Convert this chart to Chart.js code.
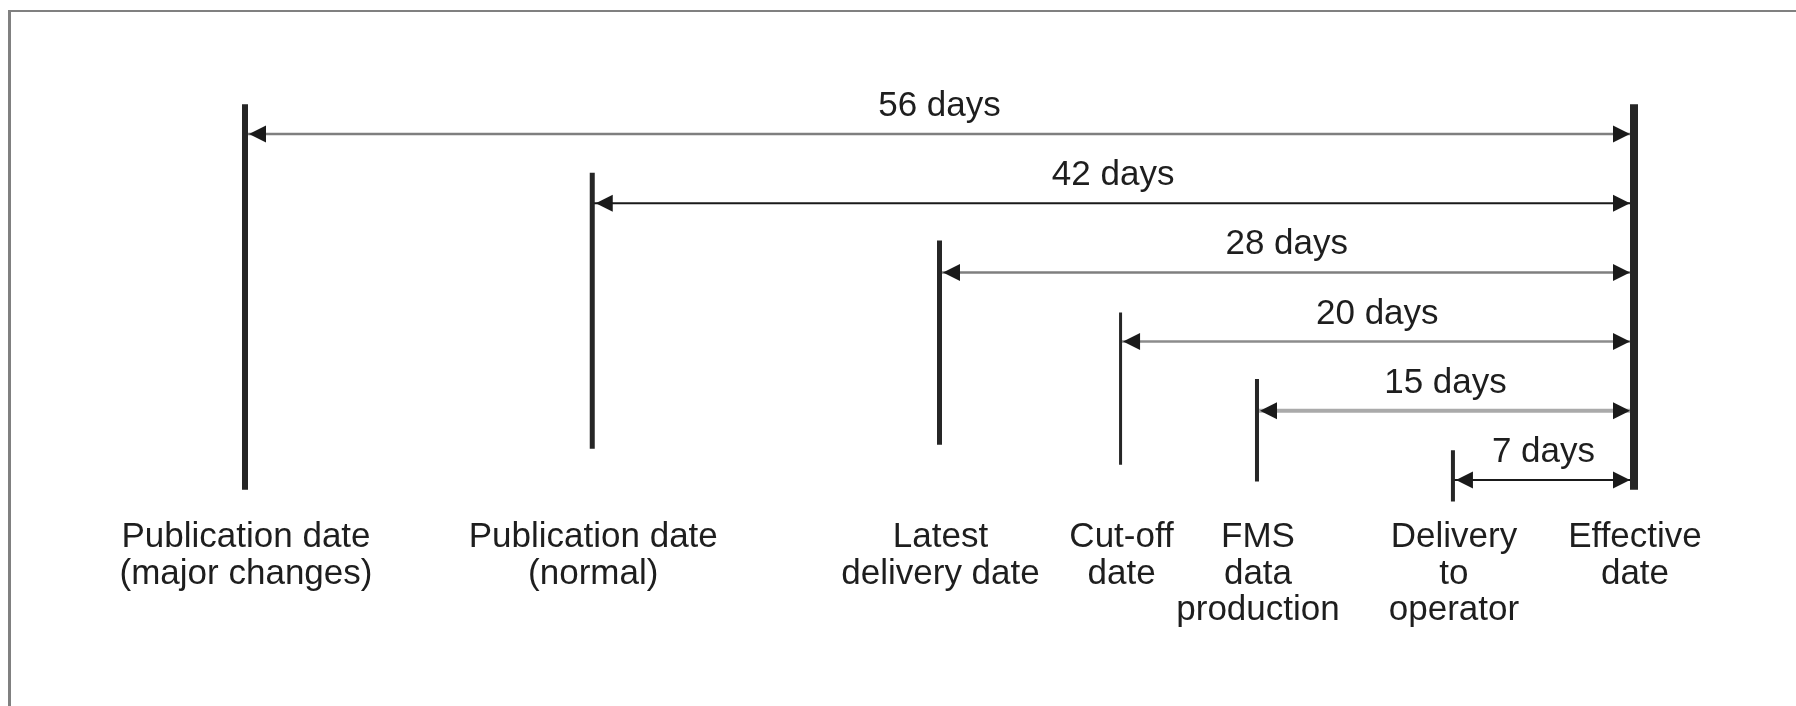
<!DOCTYPE html>
<html>
<head>
<meta charset="utf-8">
<title>Data cycle timeline</title>
<script src="https://cdn.jsdelivr.net/npm/chart.js@4"></script>
<style>
  body { margin: 0; background: #fff; }
  #wrap { position: relative; width: 1796px; height: 706px; }
  #frame { position: absolute; left: 8px; top: 10px; right: 0; bottom: 0; border-top: 2px solid #808080; border-left: 3px solid #808080; }
  canvas { position: absolute; left: 0; top: 0; }
</style>
</head>
<body>
<div id="wrap">
  <div id="frame"></div>
  <canvas id="myChart" width="1796" height="706"></canvas>
</div>
<script>
// milestones, days before the effective date
const markerNames = [
    ['Publication date', '(major changes)'],
    ['Publication date', '(normal)'],
    ['Latest', 'delivery date'],
    ['Cut-off', 'date'],
    ['FMS', 'data', 'production'],
    ['Delivery', 'to', 'operator'],
    ['Effective', 'date']
];
const markerDays = [56, 42, 28, 20.7, 15.2, 7.3, 0];
// vertical extent of each marker, in arrow-row units (row 0 = top arrow)
const markerTop = [-0.43, 0.56, 1.54, 2.58, 3.54, 4.57, -0.43];
const markerBottom = [5.14, 4.55, 4.49, 4.78, 5.02, 5.31, 5.14];

// spans to the effective date
const spanLabels = ['56 days', '42 days', '28 days', '20 days', '15 days', '7 days'];
const arrowRow = [0, 1, 2, 3, 4, 5];

// styles
const markerWidth = [6, 5, 5, 3, 4, 4, 8];
const arrowColor = ['#7f7f7f', '#1a1a1a', '#7f7f7f', '#8c8c8c', '#aaaaaa', '#1a1a1a'];
const arrowWidth = [2.5, 2, 2.5, 2.5, 4, 2];
const FONT = '35px "Liberation Sans", Arial, sans-serif';

let datasets = [];
for (let i = 0; i < markerDays.length; i++) {
    datasets.push({
        label: markerNames[i].join(' '),
        data: [{ x: markerDays[i], y: markerTop[i] }, { x: markerDays[i], y: markerBottom[i] }],
        borderColor: '#262626',
        borderWidth: markerWidth[i],
        borderCapStyle: 'butt',
        showLine: true,
        pointRadius: 0,
        clip: false
    });
}
for (let i = 0; i < spanLabels.length; i++) {
    datasets.push({
        label: spanLabels[i],
        data: [{ x: markerDays[i], y: arrowRow[i] }, { x: markerDays[6], y: arrowRow[i] }],
        borderColor: arrowColor[i],
        borderWidth: arrowWidth[i],
        showLine: true,
        pointRadius: 0,
        clip: false
    });
}

const timelinePlugin = {
    id: 'timeline',
    afterDatasetsDraw(chart) {
        const ctx = chart.ctx;
        const xs = chart.scales.x, ys = chart.scales.y;
        const endX = xs.getPixelForValue(markerDays[6]);
        ctx.save();
        ctx.font = FONT;
        ctx.textAlign = 'center';
        ctx.textBaseline = 'alphabetic';
        for (let i = 0; i < spanLabels.length; i++) {
            const startX = xs.getPixelForValue(markerDays[i]);
            const y = ys.getPixelForValue(arrowRow[i]);
            const l = startX + markerWidth[i] / 2 + 1;
            const r = endX - markerWidth[6] / 2;
            ctx.fillStyle = '#1a1a1a';
            ctx.beginPath();
            ctx.moveTo(l, y); ctx.lineTo(l + 17, y - 8.5); ctx.lineTo(l + 17, y + 8.5);
            ctx.closePath(); ctx.fill();
            ctx.beginPath();
            ctx.moveTo(r, y); ctx.lineTo(r - 17, y - 8.5); ctx.lineTo(r - 17, y + 8.5);
            ctx.closePath(); ctx.fill();
            ctx.fillStyle = '#1e1e1e';
            ctx.fillText(spanLabels[i], (startX + endX) / 2, y - 18);
        }
        // names under the markers
        const base = chart.chartArea.bottom + 67;
        for (let i = 0; i < markerNames.length; i++) {
            const x = xs.getPixelForValue(markerDays[i]);
            markerNames[i].forEach((t, j) => ctx.fillText(t, x + 1, base + j * 36.5));
        }
        ctx.restore();
    }
};

new Chart('myChart', {
    type: 'scatter',
    data: { datasets: datasets },
    options: {
        responsive: false,
        devicePixelRatio: 1,
        animation: false,
        events: [],
        layout: { padding: { left: 245, right: 162, top: 134, bottom: 226 } },
        scales: {
            x: { type: 'linear', min: 0, max: 56, reverse: true, display: false },
            y: { type: 'linear', min: 0, max: 5, reverse: true, display: false }
        },
        plugins: { legend: { display: false }, tooltip: { enabled: false } }
    },
    plugins: [timelinePlugin]
});
</script>
</body>
</html>
